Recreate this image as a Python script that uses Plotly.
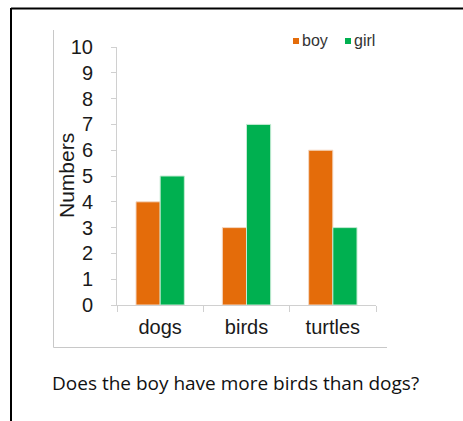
import plotly.graph_objects as go

# Pet counts per child
categories = ["dogs", "birds", "turtles"]
series_names = ["boy", "girl"]
boy = [4, 3, 6]
girl = [5, 7, 3]
y_ticks = list(range(0, 11))
question = "Does the boy have more birds than dogs?"

colors = ["#E46C0A", "#00B050"]
edges = ["#F4D9C4", "#C4EBD3"]

W, H = 463, 421
L, R, T, B = 117, 87, 47, 116
PW, PH = W - L - R, H - T - B


def px_x(x):
    return (x - L) / PW


def px_y(y):
    return 1 - (y - T) / PH


fig = go.Figure()
for name, vals, c, e in zip(series_names, [boy, girl], colors, edges):
    fig.add_trace(go.Bar(name=name, x=categories, y=vals, showlegend=False,
                         marker=dict(color=c, line=dict(color=e, width=1))))

axis_font = dict(family="Liberation Sans, Arial, sans-serif", size=20, color="#1a1a1a")

# compact legend: small square swatch followed by the series name
legend_x = [293, 345]
shapes = []
annotations = []
for name, c, lx in zip(series_names, colors, legend_x):
    shapes.append(dict(type="rect", xref="paper", yref="paper",
                       x0=px_x(lx), x1=px_x(lx + 6), y0=px_y(38), y1=px_y(44),
                       fillcolor=c, line=dict(width=0)))
    annotations.append(dict(text=name, xref="paper", yref="paper", x=px_x(lx + 7), y=px_y(41),
                            xanchor="left", yanchor="middle", showarrow=False,
                            font=dict(family="Liberation Sans, Arial, sans-serif", size=16,
                                      color="#333")))

shapes += [
    # outer black frame (top and left edges)
    dict(type="line", xref="paper", yref="paper", x0=px_x(11), x1=px_x(470),
         y0=px_y(8.5), y1=px_y(8.5), line=dict(color="black", width=2)),
    dict(type="line", xref="paper", yref="paper", x0=px_x(11), x1=px_x(11),
         y0=px_y(8), y1=px_y(430), line=dict(color="black", width=2)),
    # light chart-area border (left and bottom)
    dict(type="line", xref="paper", yref="paper", x0=px_x(53.5), x1=px_x(53.5),
         y0=px_y(30), y1=px_y(347.5), line=dict(color="#C8C8C8", width=1)),
    dict(type="line", xref="paper", yref="paper", x0=px_x(53.5), x1=px_x(387),
         y0=px_y(347.5), y1=px_y(347.5), line=dict(color="#C8C8C8", width=1)),
]

annotations.append(dict(text=question, xref="paper", yref="paper", x=px_x(50), y=px_y(383),
                        xanchor="left", yanchor="middle", showarrow=False,
                        font=dict(family="Open Sans, sans-serif", size=19, color="#111")))
annotations.append(dict(text="Numbers", xref="paper", yref="paper", x=px_x(66), y=px_y(176),
                        xanchor="center", yanchor="middle", textangle=-90, showarrow=False,
                        font=dict(family="Liberation Sans, Arial, sans-serif", size=21,
                                  color="#1a1a1a")))

fig.update_layout(
    width=W, height=H,
    margin=dict(l=L, r=R, t=T, b=B),
    paper_bgcolor="white", plot_bgcolor="white",
    barmode="group", bargap=0.44, bargroupgap=0,
    showlegend=False,
    xaxis=dict(showline=True, linecolor="#D0D0D0", linewidth=1,
               ticks="outside", ticklen=6, tickcolor="#D0D0D0", ticklabelstandoff=4,
               tickson="boundaries", tickfont=axis_font, showgrid=False),
    yaxis=dict(range=[0, 10], tickvals=y_ticks, showline=True, linecolor="#D0D0D0", linewidth=1,
               ticks="outside", ticklen=5, tickcolor="#D0D0D0", ticklabelstandoff=14,
               tickfont=axis_font, showgrid=False, zeroline=False),
    shapes=shapes,
    annotations=annotations,
)

fig.write_html("out.html")
